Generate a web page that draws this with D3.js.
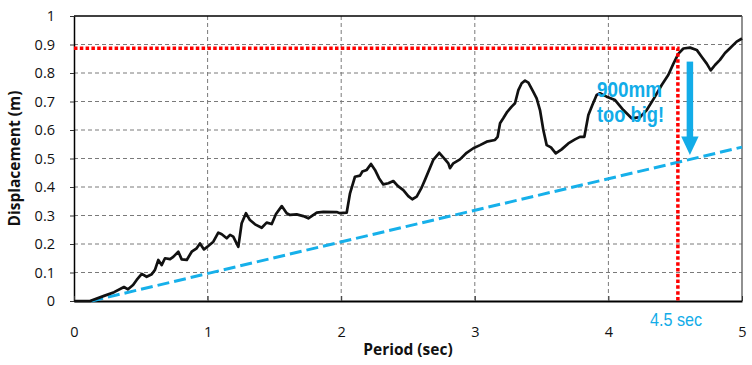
<!DOCTYPE html>
<html>
<head>
<meta charset="utf-8" />
<title>Displacement spectrum</title>
<script src="https://cdn.jsdelivr.net/npm/d3@7"></script>
<style>
body { margin: 0; background: #fff; }
.tick text { font-family: "Open Sans", sans-serif; font-size: 14.5px; fill: #111; }
.title { font-family: "Open Sans", sans-serif; font-size: 15.5px; font-weight: bold; fill: #111; }
.note { font-family: "Liberation Sans", Arial, sans-serif; fill: #12ace8; }
</style>
</head>
<body>
<script>
// spectrum: period (sec) / displacement (m)
var period = [0, 0.12, 0.225, 0.30, 0.374, 0.404, 0.442, 0.469, 0.507, 0.544, 0.582, 0.606, 0.631, 0.656, 0.681, 0.719, 0.743, 0.781, 0.806, 0.844, 0.881, 0.918, 0.943, 0.973, 1.005, 1.043, 1.08, 1.106, 1.143, 1.168, 1.192, 1.23, 1.255, 1.287, 1.317, 1.355, 1.405, 1.442, 1.48, 1.512, 1.555, 1.592, 1.617, 1.667, 1.716, 1.754, 1.817, 1.866, 1.966, 1.991, 2.041, 2.066, 2.103, 2.141, 2.158, 2.191, 2.223, 2.253, 2.283, 2.315, 2.353, 2.39, 2.423, 2.465, 2.502, 2.532, 2.565, 2.603, 2.627, 2.689, 2.734, 2.777, 2.802, 2.814, 2.839, 2.889, 2.939, 2.989, 3.039, 3.089, 3.151, 3.171, 3.189, 3.213, 3.243, 3.276, 3.301, 3.326, 3.351, 3.376, 3.401, 3.438, 3.463, 3.488, 3.513, 3.538, 3.57, 3.606, 3.65, 3.7, 3.75, 3.787, 3.82, 3.85, 3.88, 3.912, 3.937, 3.987, 4.05, 4.112, 4.174, 4.237, 4.287, 4.349, 4.399, 4.448, 4.486, 4.523, 4.561, 4.611, 4.661, 4.698, 4.736, 4.766, 4.798, 4.835, 4.873, 4.91, 4.96, 5.0];
var displacement = [0, 0, 0.018, 0.031, 0.049, 0.041, 0.056, 0.074, 0.095, 0.085, 0.094, 0.109, 0.144, 0.126, 0.15, 0.147, 0.155, 0.173, 0.146, 0.144, 0.173, 0.185, 0.202, 0.181, 0.193, 0.208, 0.24, 0.234, 0.22, 0.232, 0.226, 0.19, 0.273, 0.308, 0.284, 0.269, 0.257, 0.275, 0.27, 0.305, 0.333, 0.308, 0.302, 0.304, 0.298, 0.29, 0.31, 0.313, 0.312, 0.308, 0.31, 0.378, 0.436, 0.44, 0.454, 0.46, 0.481, 0.46, 0.431, 0.409, 0.413, 0.421, 0.404, 0.389, 0.368, 0.357, 0.366, 0.399, 0.425, 0.495, 0.52, 0.497, 0.483, 0.466, 0.483, 0.497, 0.52, 0.536, 0.547, 0.559, 0.565, 0.576, 0.624, 0.641, 0.664, 0.682, 0.694, 0.74, 0.764, 0.773, 0.766, 0.734, 0.711, 0.67, 0.6, 0.547, 0.539, 0.518, 0.532, 0.553, 0.567, 0.576, 0.576, 0.653, 0.688, 0.723, 0.729, 0.717, 0.705, 0.67, 0.641, 0.645, 0.67, 0.717, 0.758, 0.793, 0.832, 0.867, 0.886, 0.889, 0.881, 0.857, 0.833, 0.809, 0.828, 0.846, 0.87, 0.887, 0.91, 0.921];

// design line (blue dashed)
var designPeriod = [0.13, 5];
var designDisp = [0, 0.54];

// marker at 4.5 sec (red dotted)
var markPeriod = 4.52, markDisp = 0.887;
// arrow "too big"
var arrowPeriod = 4.61, arrowFrom = 0.84, arrowTo = 0.512;

var xTicks = [0, 1, 2, 3, 4, 5];
var yTicks = [0, 0.1, 0.2, 0.3, 0.4, 0.5, 0.6, 0.7, 0.8, 0.9, 1];

var margin = {top: 16, right: 10, bottom: 64, left: 74};
var width = 752 - margin.left - margin.right,
    height = 365 - margin.top - margin.bottom;

var base = d3.select("body").append("svg")
  .attr("width", 752).attr("height", 365);
var svg = base.append("g")
  .attr("transform", "translate(" + margin.left + "," + margin.top + ")");

var x = d3.scaleLinear().domain([0, 5]).range([0, width]);
var y = d3.scaleLinear().domain([0, 1]).range([height, 0]);

// grid
svg.append("g").selectAll("line").data(yTicks.slice(1, -1)).join("line")
  .attr("x1", 0).attr("x2", width)
  .attr("y1", d => y(d)).attr("y2", d => y(d))
  .attr("stroke", "#7a7a7a").attr("stroke-dasharray", "4,3");
svg.append("g").selectAll("line").data(xTicks.slice(1, -1)).join("line")
  .attr("y1", 0).attr("y2", height)
  .attr("x1", d => x(d)).attr("x2", d => x(d))
  .attr("stroke", "#7a7a7a").attr("stroke-dasharray", "4,3");

// frame top / right
svg.append("line").attr("x1", 0).attr("x2", x(5)).attr("y1", y(1)).attr("y2", y(1))
  .attr("stroke", "#000").attr("stroke-width", 1.3);
svg.append("line").attr("x1", x(5)).attr("x2", x(5)).attr("y1", y(1)).attr("y2", y(0))
  .attr("stroke", "#555").attr("stroke-width", 1.3);

// axes
var yAxis = svg.append("g")
  .call(d3.axisLeft(y).tickValues(yTicks).tickFormat(d3.format("")).tickSizeInner(4).tickSizeOuter(0).tickPadding(15));
var xAxis = svg.append("g")
  .attr("transform", "translate(0," + height + ")")
  .call(d3.axisBottom(x).tickValues(xTicks).tickFormat(d3.format("d")).tickSizeInner(-5).tickSizeOuter(0).tickPadding(26));
yAxis.select(".domain").attr("stroke", "#000").attr("stroke-width", 1.5);
xAxis.select(".domain").attr("stroke", "#000").attr("stroke-width", 2);
svg.selectAll(".tick line").attr("stroke", "#333");

// design line
svg.append("path")
  .datum(d3.zip(designPeriod, designDisp))
  .attr("fill", "none").attr("stroke", "#16b0ea").attr("stroke-width", 3)
  .attr("stroke-dasharray", "12,5")
  .attr("d", d3.line().x(d => x(d[0])).y(d => y(d[1])));

// spectrum
svg.append("path")
  .datum(d3.zip(period, displacement))
  .attr("fill", "none").attr("stroke", "#111").attr("stroke-width", 2.7)
  .attr("stroke-linejoin", "round")
  .attr("d", d3.line().x(d => x(d[0])).y(d => y(d[1])));

// red marker
svg.append("path")
  .datum([[0, markDisp], [markPeriod, markDisp], [markPeriod, 0]])
  .attr("fill", "none").attr("stroke", "#ff0000").attr("stroke-width", 3.5)
  .attr("stroke-dasharray", "3.5,2.3")
  .attr("d", d3.line().x(d => x(d[0])).y(d => y(d[1])));

// arrow
var ax = x(arrowPeriod), ay1 = y(arrowFrom), ay2 = y(arrowTo);
svg.append("line").attr("x1", ax).attr("x2", ax).attr("y1", ay1).attr("y2", ay2 - 17)
  .attr("stroke", "#12ace8").attr("stroke-width", 6.5);
svg.append("path")
  .attr("d", "M" + (ax - 8.7) + "," + (ay2 - 18.5) + "L" + (ax + 8.7) + "," + (ay2 - 18.5) + "L" + ax + "," + ay2 + "Z")
  .attr("fill", "#12ace8");

// notes
base.append("text").attr("class", "note").attr("x", 597).attr("y", 96.5)
  .attr("font-size", 22).attr("font-weight", "bold")
  .attr("textLength", 65).attr("lengthAdjust", "spacingAndGlyphs").text("900mm");
base.append("text").attr("class", "note").attr("x", 597).attr("y", 122)
  .attr("font-size", 22).attr("font-weight", "bold")
  .attr("textLength", 67).attr("lengthAdjust", "spacingAndGlyphs").text("too big!");
base.append("text").attr("class", "note").attr("x", 650).attr("y", 326)
  .attr("font-size", 19)
  .attr("textLength", 52).attr("lengthAdjust", "spacingAndGlyphs").text("4.5 sec");

// titles
base.append("text").attr("class", "title")
  .attr("x", margin.left + width / 2).attr("y", 355).attr("text-anchor", "middle")
  .text("Period (sec)");
base.append("text").attr("class", "title")
  .attr("transform", "translate(20," + (margin.top + height / 2) + ") rotate(-90)")
  .attr("text-anchor", "middle")
  .text("Displacement (m)");
</script>
</body>
</html>
